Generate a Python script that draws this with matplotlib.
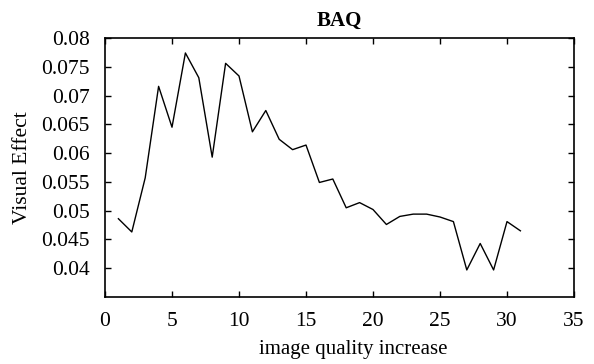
import matplotlib
matplotlib.use("Agg")
import matplotlib.pyplot as plt

x_vals = list(range(1, 32))
y_vals = [0.0486, 0.0463, 0.0557, 0.0716, 0.0645, 0.0774, 0.0731, 0.0593,
          0.0756, 0.0734, 0.0637, 0.0674, 0.0624, 0.0606, 0.0614, 0.0549,
          0.0555, 0.0505, 0.0514, 0.0502, 0.0476, 0.0490, 0.0494, 0.0494,
          0.0489, 0.0481, 0.0397, 0.0443, 0.0397, 0.0481, 0.0465]
x_ticks = [0, 5, 10, 15, 20, 25, 30, 35]
y_ticks = [0.04, 0.045, 0.05, 0.055, 0.06, 0.065, 0.07, 0.075, 0.08]
y_tick_labels = ["0.04", "0.045", "0.05", "0.055", "0.06", "0.065", "0.07", "0.075", "0.08"]

plt.rcParams['font.family'] = ['Liberation Serif', 'DejaVu Serif']

fig = plt.figure(figsize=(5.94, 3.64), dpi=100)
ax = fig.add_axes([105/594, 1-297/364, (574-105)/594, (297-38)/364])
ax.plot(x_vals, y_vals, color='black', linewidth=1.0)
ax.set_xlim(0, 35)
ax.set_ylim(0.035, 0.08)
ax.set_xticks(x_ticks)
ax.set_xticklabels([str(t) for t in x_ticks], fontsize=15.5)
ax.set_yticks(y_ticks)
ax.set_yticklabels(y_tick_labels, fontsize=15.5)
ax.tick_params(direction='in', top=True, right=True, length=4, width=1, pad=11)
for s in ax.spines.values():
    s.set_linewidth(1.2)
ax.set_xlabel("image quality increase", fontsize=15)
ax.xaxis.set_label_coords(0.529, -0.165)
ax.set_ylabel("Visual Effect", fontsize=15.5, labelpad=7)
ax.set_title("BAQ", fontsize=15, fontweight='bold', pad=9)

fig.savefig("out.png", dpi=100)
